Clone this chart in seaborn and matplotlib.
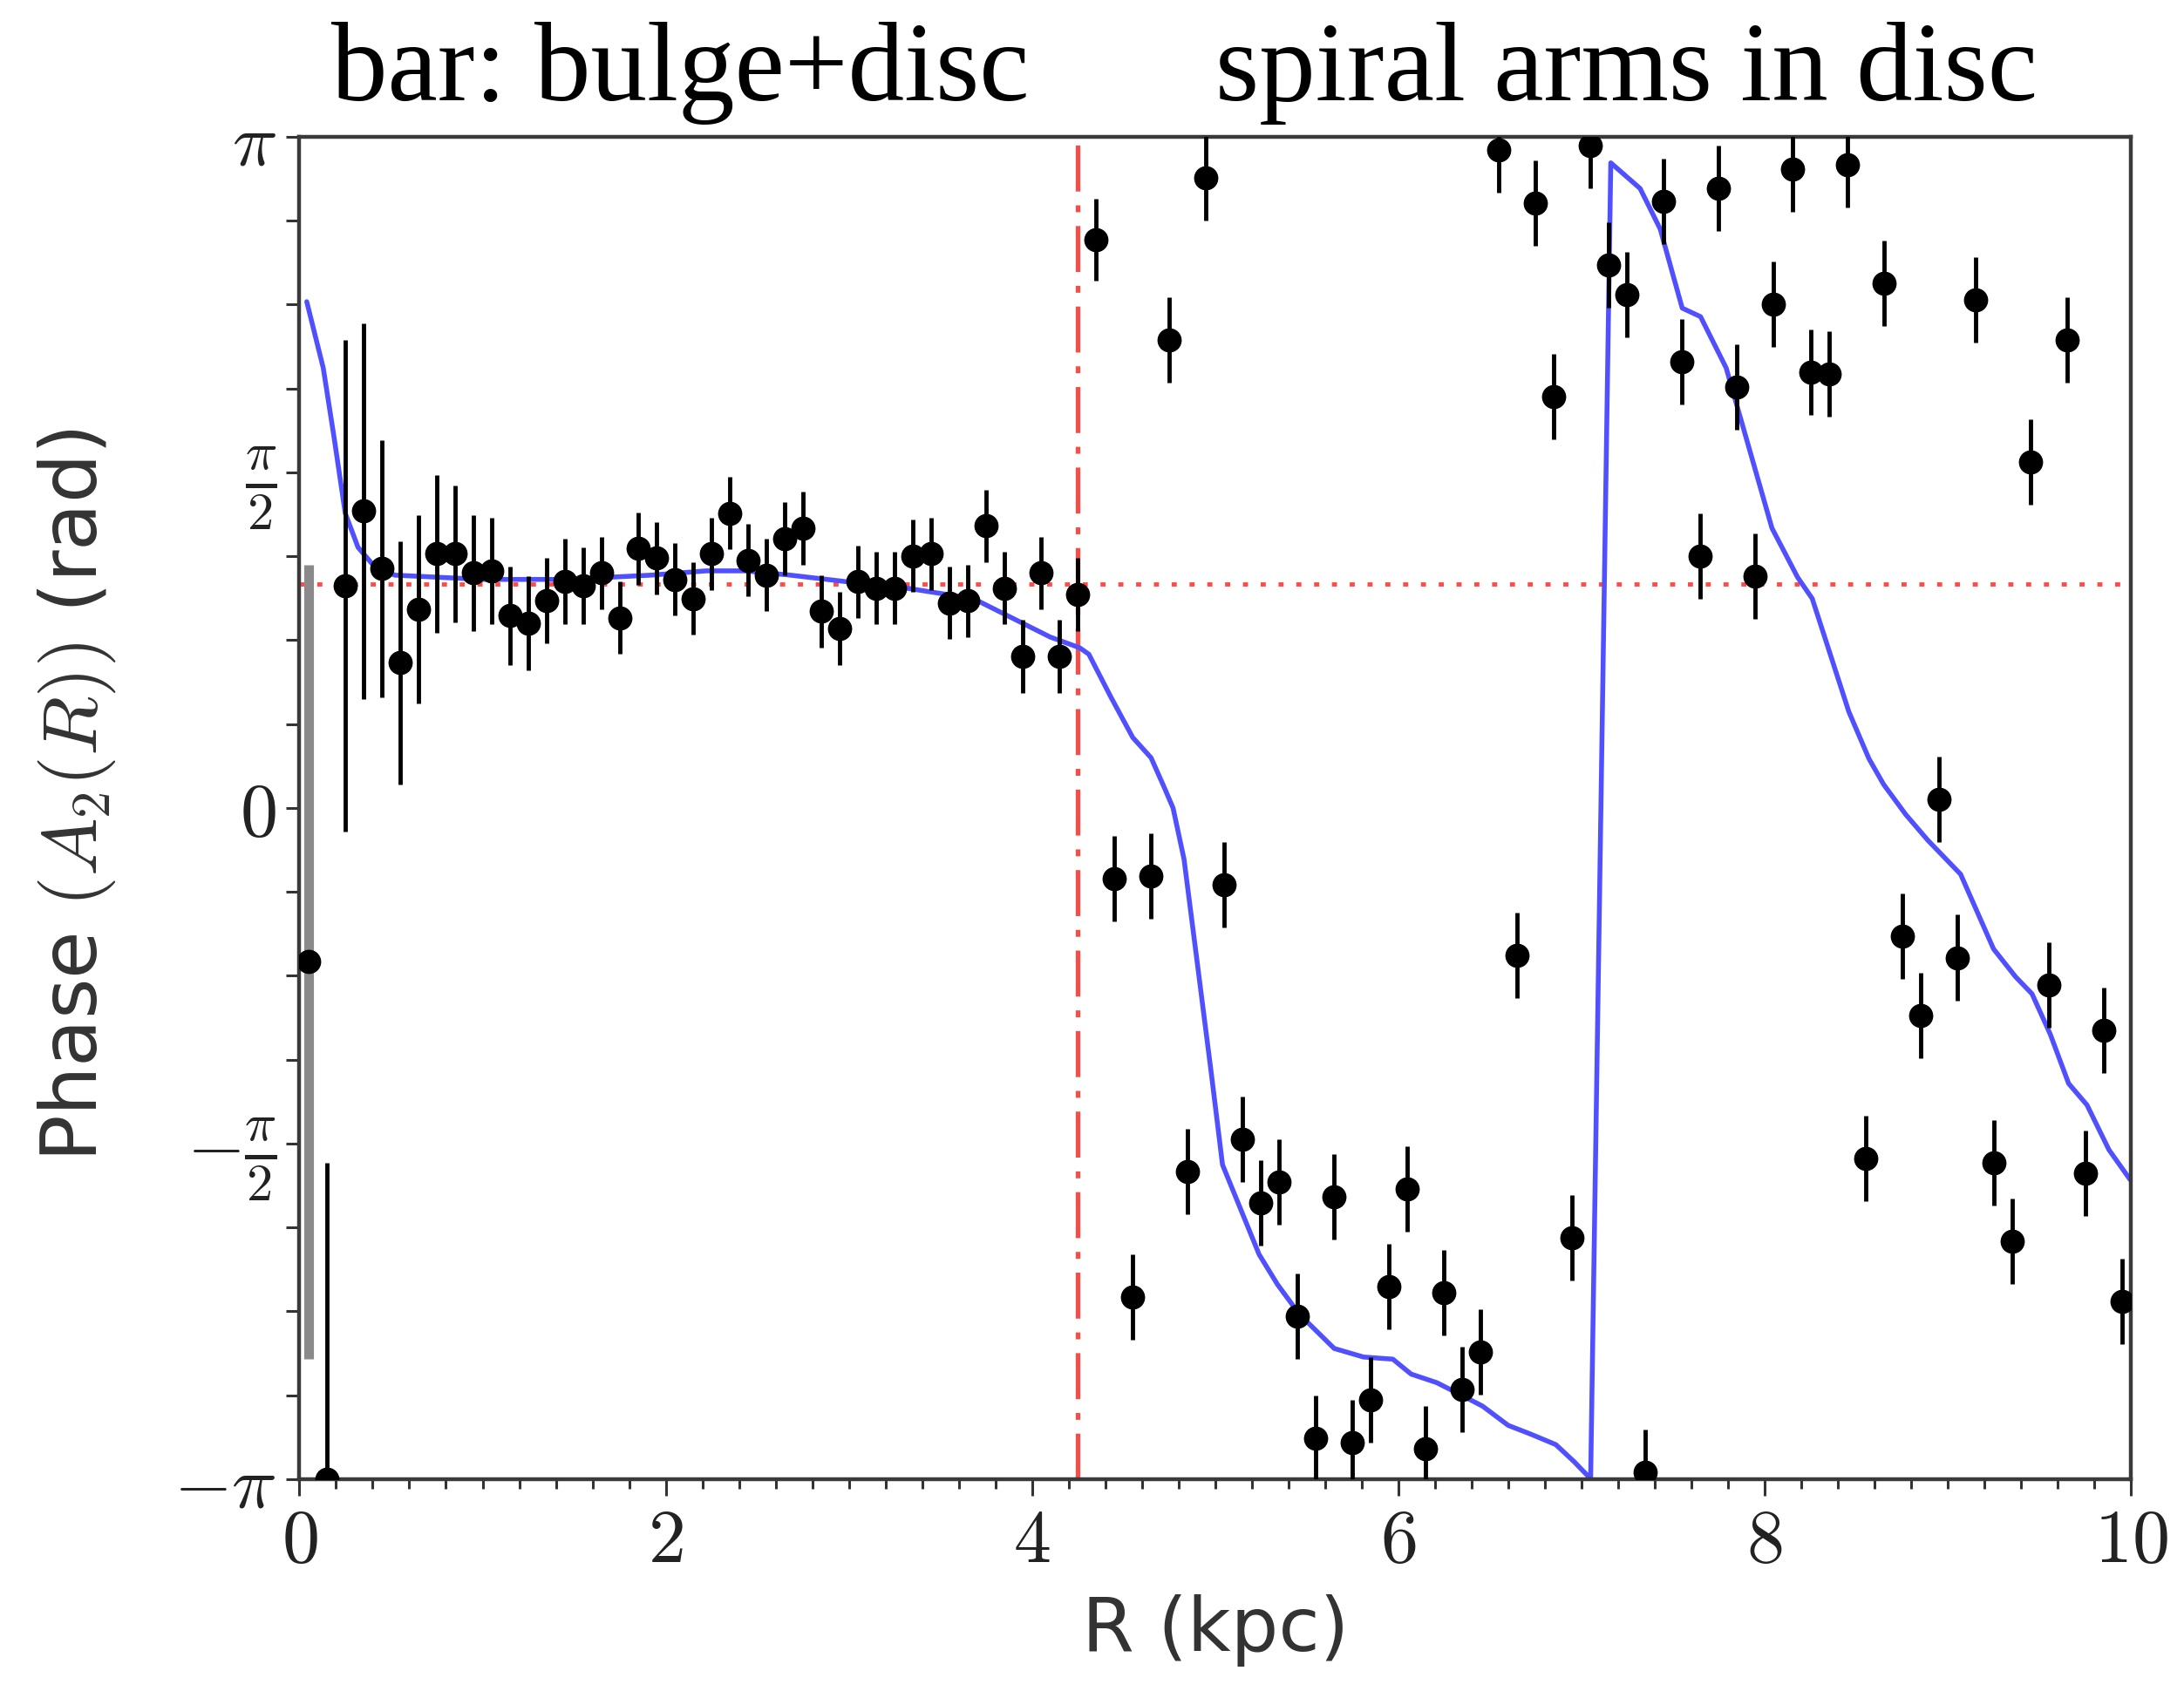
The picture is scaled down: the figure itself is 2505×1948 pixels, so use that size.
import numpy as np
import pandas as pd
import matplotlib
matplotlib.use("Agg")
import matplotlib.pyplot as plt
import seaborn as sns
from matplotlib.ticker import FixedLocator, FixedFormatter, MultipleLocator

# ---------------- data ----------------
radius = [0.05, 0.15, 0.25, 0.35, 0.45, 0.55, 0.65, 0.75, 0.85, 0.95,
          1.05, 1.15, 1.25, 1.35, 1.45, 1.55, 1.65, 1.75, 1.85, 1.95,
          2.05, 2.15, 2.25, 2.35, 2.45, 2.55, 2.65, 2.75, 2.85, 2.95,
          3.05, 3.15, 3.25, 3.35, 3.45, 3.55, 3.65, 3.75, 3.85, 3.95,
          4.05, 4.15, 4.25, 4.35, 4.45, 4.55, 4.65, 4.75, 4.85, 4.95,
          5.05, 5.15, 5.25, 5.35, 5.45, 5.55, 5.65, 5.75, 5.85, 5.95,
          6.05, 6.15, 6.25, 6.35, 6.45, 6.55, 6.65, 6.75, 6.85, 6.95,
          7.05, 7.15, 7.25, 7.35, 7.45, 7.55, 7.65, 7.75, 7.85, 7.95,
          8.05, 8.15, 8.25, 8.35, 8.45, 8.55, 8.65, 8.75, 8.85, 8.95,
          9.05, 9.15, 9.25, 9.35, 9.45, 9.55, 9.65, 9.75, 9.85, 9.95]

phase = [-0.72, -3.14, 1.04, 1.39, 1.12, 0.68, 0.93, 1.19, 1.19, 1.10,
         1.11, 0.90, 0.865, 0.97, 1.06, 1.04, 1.10, 0.89, 1.215, 1.17,
         1.07, 0.98, 1.19, 1.38, 1.16, 1.09, 1.26, 1.31, 0.92, 0.84,
         1.06, 1.03, 1.03, 1.18, 1.19, 0.96, 0.97, 1.32, 1.03, 0.71,
         1.10, 0.71, 1.00, 2.66, -0.33, -2.29, -0.32, 2.19, -1.70, 2.95,
         -0.36, -1.55, -1.85, -1.75, -2.38, -2.95, -1.82, -2.97, -2.77, -2.24,
         -1.785, -3.00, -2.27, -2.72, -2.545, 3.08, -0.69, 2.83, 1.925, -2.01,
         3.10, 2.54, 2.405, -3.11, 2.84, 2.09, 1.18, 2.90, 1.97, 1.086,
         2.36, 2.99, 2.04, 2.03, 3.01, -1.64, 2.456, -0.60, -0.97, 0.04,
         -0.70, 2.38, -1.66, -2.03, 1.62, -0.83, 2.19, -1.71, -1.04, -2.31]

phase_err = [1.86, 1.48, 1.15, 0.88, 0.60, 0.57, 0.44, 0.37, 0.32, 0.27,
             0.25, 0.23, 0.22, 0.20, 0.20, 0.18, 0.17, 0.17, 0.17, 0.17,
             0.17, 0.17, 0.17, 0.17, 0.17, 0.17, 0.17, 0.17, 0.17, 0.17,
             0.17, 0.17, 0.17, 0.17, 0.17, 0.17, 0.17, 0.17, 0.17, 0.17,
             0.17, 0.17, 0.17, 0.19, 0.20, 0.20, 0.20, 0.20, 0.20, 0.20,
             0.20, 0.20, 0.20, 0.20, 0.20, 0.20, 0.20, 0.20, 0.20, 0.20,
             0.20, 0.20, 0.20, 0.20, 0.20, 0.20, 0.20, 0.20, 0.20, 0.20,
             0.20, 0.20, 0.20, 0.20, 0.20, 0.20, 0.20, 0.20, 0.20, 0.20,
             0.20, 0.20, 0.20, 0.20, 0.20, 0.20, 0.20, 0.20, 0.20, 0.20,
             0.20, 0.20, 0.20, 0.20, 0.20, 0.20, 0.20, 0.20, 0.20, 0.20]

model_r = [0.04, 0.13, 0.19, 0.25, 0.32, 0.40, 0.52, 1.00, 1.46, 1.92,
           2.22, 2.43, 2.68, 2.98, 3.31, 3.68, 3.89, 4.10, 4.26, 4.31,
           4.43, 4.55, 4.65, 4.72, 4.77, 4.83, 4.90, 4.98, 5.04, 5.14,
           5.24, 5.34, 5.46, 5.65, 5.81, 5.97, 6.07, 6.21, 6.37, 6.46,
           6.60, 6.72, 6.86, 6.96, 7.05, 7.16, 7.32, 7.43, 7.55, 7.65,
           7.79, 7.90, 8.04, 8.18, 8.26, 8.46, 8.57, 8.65, 8.77, 8.89,
           9.07, 9.25, 9.37, 9.46, 9.56, 9.66, 9.76, 9.88, 9.996]
model_phase = [2.37, 2.06, 1.73, 1.38, 1.22, 1.14, 1.09, 1.07, 1.07, 1.09,
               1.11, 1.11, 1.09, 1.06, 1.03, 0.98, 0.89, 0.80, 0.75, 0.72,
               0.52, 0.33, 0.235, 0.10, 0.0, -0.24, -0.71, -1.25, -1.67, -1.88,
               -2.09, -2.23, -2.37, -2.53, -2.57, -2.58, -2.65, -2.69, -2.76, -2.80,
               -2.89, -2.93, -2.98, -3.06, -3.14, 3.02, 2.90, 2.71, 2.34, 2.30,
               2.06, 1.73, 1.31, 1.08, 0.98, 0.45, 0.23, 0.11, -0.03, -0.15,
               -0.31, -0.66, -0.79, -0.87, -1.06, -1.29, -1.39, -1.60, -1.74]

bar_phase = np.pi / 3      # horizontal dotted reference
bar_radius = 4.25          # vertical dash-dot boundary

ytick_units = [-8, -7, -6, -5, -4, -3, -2, -1, 0, 1, 2, 3, 4, 5, 6, 7, 8]  # multiples of pi/8
ytick_labels = [r"$-\pi$", "", "", "", r"$-\frac{\pi}{2}$", "", "", "", r"$0$",
                "", "", "", r"$\frac{\pi}{2}$", "", "", "", r"$\pi$"]
xtick_values = [0, 2, 4, 6, 8, 10]
xtick_labels = [r"$0$", r"$2$", r"$4$", r"$6$", r"$8$", r"$10$"]

title_left = "bar: bulge+disc"
title_right = "spiral arms in disc"

# ---------------- figure ----------------
sns.set_theme(style="ticks")
plt.rcParams["font.family"] = ["DejaVu Sans"]
plt.rcParams["mathtext.fontset"] = "cm"

fig = plt.figure(figsize=(25.05, 19.48), dpi=100)
ax = fig.add_axes([0.1371, 0.1289, 0.9757 - 0.1371, 0.9194 - 0.1289])

df_model = pd.DataFrame({"R": model_r, "phase": model_phase})
df_pts = pd.DataFrame({"R": radius, "phase": phase, "err": phase_err})

ax.axhline(bar_phase, color="#ff4a4a", lw=3.5, ls=(0, (1.2, 3.0)), zorder=1)
ax.axvline(bar_radius, color="#f0504a", lw=3.8, ls=(0, (10, 3, 1.5, 3)), zorder=1)

sns.lineplot(data=df_model, x="R", y="phase", sort=False, estimator=None,
             color="#5050ff", lw=4, ax=ax, zorder=2)

first = df_pts.iloc[:1]
rest = df_pts.iloc[1:]
ax.errorbar(first["R"], first["phase"], yerr=first["err"], fmt="o",
            color="black", ecolor="#8a8a8a", elinewidth=8, markersize=19,
            capsize=0, zorder=3)
ax.errorbar(rest["R"], rest["phase"], yerr=rest["err"], fmt="o",
            color="black", ecolor="black", elinewidth=3.5, markersize=19,
            capsize=0, zorder=3)

ax.set_xlim(0, 10)
ax.set_ylim(-np.pi, np.pi)

ax.yaxis.set_major_locator(FixedLocator([u * np.pi / 8 for u in ytick_units]))
ax.yaxis.set_major_formatter(FixedFormatter(ytick_labels))
ax.xaxis.set_major_locator(FixedLocator(xtick_values))
ax.xaxis.set_major_formatter(FixedFormatter(xtick_labels))
ax.xaxis.set_minor_locator(MultipleLocator(0.2))

ax.tick_params(axis="x", which="major", direction="out", length=14, width=2.2,
               labelsize=62, pad=8, colors="#333333")
ax.tick_params(axis="x", which="minor", direction="out", length=8, width=2.2,
               colors="#333333")
ax.tick_params(axis="y", which="major", direction="out", length=11, width=2.2,
               labelsize=62, pad=8, colors="#333333")
ax.tick_params(labelcolor="#222222")

for sp in ax.spines.values():
    sp.set_color("#3a3a3a")
    sp.set_linewidth(3.2)

ax.set_xlabel("R (kpc)", fontsize=62, color="#333333")
ax.set_ylabel(r"Phase $(A_2(R))$ (rad)", fontsize=64, color="#333333")
ax.xaxis.label.set_va("top")
ax.xaxis.set_label_coords(0.5, -0.086)
ax.yaxis.set_label_coords(-0.099, 0.51)

fig.text(780 / 2505, 1 - 115 / 1948, title_left, ha="center", va="baseline",
         fontsize=93, family="Liberation Serif", color="black")
fig.text(1865 / 2505, 1 - 115 / 1948, title_right, ha="center", va="baseline",
         fontsize=93, family="Liberation Serif", color="black")

fig.savefig("out.png", dpi=100, facecolor="white")
